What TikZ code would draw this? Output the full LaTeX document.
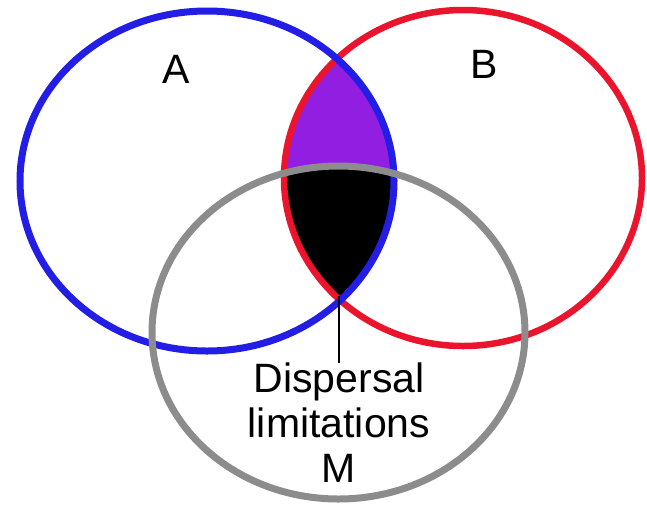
\documentclass[tikz,border=0pt]{standalone}
\usepackage{fontspec}
\setmainfont{Liberation Sans}
\definecolor{cblue}{RGB}{35,30,230}
\definecolor{cred}{RGB}{235,20,45}
\definecolor{cgray}{RGB}{140,140,140}
\definecolor{cpurple}{RGB}{145,30,225}
\tikzset{
  lbltext/.style={font=\fontsize{41}{45}\selectfont, inner sep=0pt, text=black},
  setA/.style={draw=cblue, line width=7pt},
  setB/.style={draw=cred, line width=6.5pt},
  setM/.style={draw=cgray, line width=7pt},
}
\begin{document}
\begin{tikzpicture}[x=1pt,y=-1pt]
\useasboundingbox (0,0) rectangle (647,507);
% purple: A and B; black: A, B and M
\begin{scope}
  \clip (207,181) ellipse [x radius=187, y radius=170];
  \fill[cpurple] (463,178) ellipse [x radius=179, y radius=168];
  \clip (463,178) ellipse [x radius=179, y radius=168];
  \fill[black] (338.5,332.5) ellipse [x radius=186.5, y radius=166.5];
\end{scope}
% outlines
\draw[setB] (463,178) ellipse [x radius=179, y radius=168];
\draw[setA] (207,181) ellipse [x radius=187, y radius=170];
\draw[setM] (338.5,332.5) ellipse [x radius=186.5, y radius=166.5];
% labels
\node[lbltext, anchor=base] (A) at (176,83) {A};
\node[lbltext, anchor=base] (B) at (484,78) {B};
\coordinate (tip) at (339,296);
\node[lbltext, anchor=north, align=center] (lbl) at (339,363) {Dispersal\\limitations\\M};
\draw[line width=1.5pt] (tip) -- (lbl.north);
\end{tikzpicture}
\end{document}
